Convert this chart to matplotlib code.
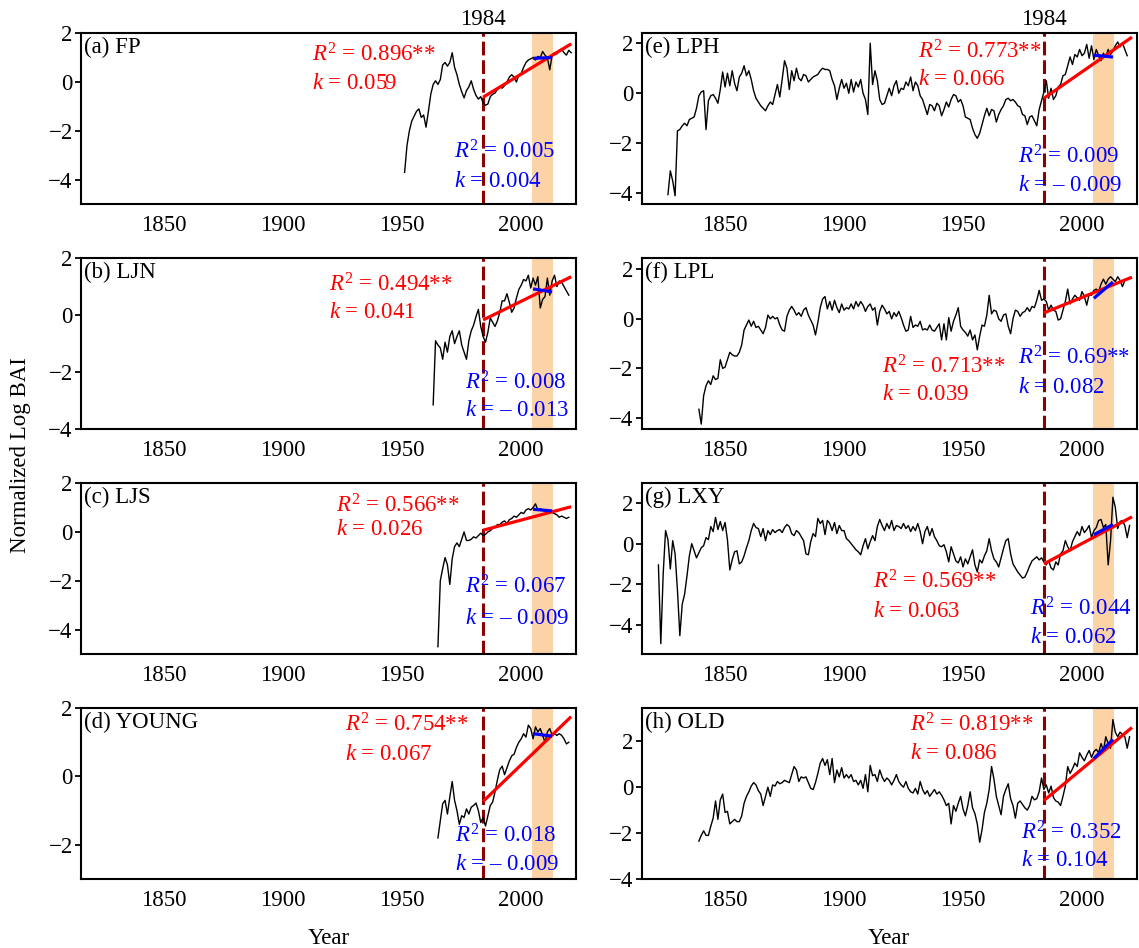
import numpy as np
import matplotlib
matplotlib.use("Agg")
import matplotlib.pyplot as plt

plt.rcParams['font.family'] = ['Liberation Serif', 'DejaVu Serif']
plt.rcParams['mathtext.fontset'] = 'custom'
plt.rcParams['mathtext.rm'] = 'Liberation Serif'
plt.rcParams['mathtext.it'] = 'Liberation Serif:italic'

# ---------------- data ----------------
panel_labels = ["(a) FP", "(b) LJN", "(c) LJS", "(d) YOUNG",
                "(e) LPH", "(f) LPL", "(g) LXY", "(h) OLD"]

fp_start = 1951
fp_bai = [-3.7, -2.6, -2.0, -1.6, -1.4, -1.2, -1.1, -1.45, -1.35, -1.85,
          -1.2, -0.5, -0.1, 0.05, -0.1, 0.1, 0.7, 0.8, 0.65, 0.8,
          1.2, 0.6, 0.3, -0.1, -0.4, -0.65, -0.35, -0.2, 0.05, -0.3,
          -0.55, -0.7, -0.6, -0.85, -0.95, -0.9, -0.6, -0.5, -0.45, -0.3,
          -0.2, -0.25, -0.15, 0.0, 0.2, 0.3, 0.2, 0.0, 0.3, 0.35,
          0.6, 0.8, 0.9, 0.95, 1.0, 0.9, 1.05, 1.0, 1.25, 1.1,
          1.0, 0.5, 1.1, 1.2, 1.15, 1.3, 1.35, 1.2, 1.1, 1.3, 1.2]

ljn_start = 1963
ljn_bai = [-3.15, -0.9, -1.05, -1.15, -1.55, -0.95, -1.3, -0.75, -0.55, -1.0,
           -0.75, -0.55, -1.05, -1.3, -1.55, -0.9, -0.55, -0.35, -0.05, 0.2,
           -0.4, -0.75, -0.95, -0.6, -0.1, -0.25, -0.4, -0.2, 0.1, 0.5,
           0.5, 0.75, 0.45, 0.1, 0.25, 0.6, 0.9, 1.05, 1.25, 1.2,
           1.4, 0.95, 1.3, 1.05, 1.35, 0.25, 0.55, 0.65, 1.3, 0.7,
           1.2, 1.4, 1.0, 1.2, 1.15, 1.0, 0.85, 0.7]

ljs_start = 1965
ljs_bai = [-4.7, -2.0, -1.5, -1.05, -1.35, -2.15, -1.1, -0.6, -0.45, -0.6,
           -0.3, 0.0, -0.35, -0.35, -0.3, -0.2, -0.25, -0.15, -0.05, -0.15,
           -0.1, 0.0, 0.05, 0.15, 0.2, 0.3, 0.3, 0.4, 0.45, 0.35,
           0.5, 0.55, 0.65, 0.6, 0.7, 0.8, 0.75, 0.9, 0.95, 0.9,
           1.0, 1.15, 0.9, 0.95, 0.9, 0.85, 0.9, 0.85, 0.8, 0.75,
           0.7, 0.6, 0.65, 0.6, 0.55, 0.6]

young_start = 1965
young_bai = [-1.8, -1.3, -0.8, -0.7, -1.1, -0.6, -0.15, -0.7, -1.0, -1.4,
             -1.15, -1.2, -0.95, -1.1, -0.9, -0.85, -0.78, -1.0, -1.35, -1.2,
             -1.45, -1.15, -0.85, -0.75, -0.45, -0.1, 0.2, 0.3, 0.05, 0.25,
             0.45, 0.6, 0.65, 0.85, 1.0, 1.1, 1.25, 1.15, 1.5, 1.4,
             1.1, 1.45, 1.3, 1.4, 1.2, 1.0, 1.3, 1.4, 1.2, 1.25,
             1.2, 1.25, 1.2, 1.1, 0.95, 1.0]

lph_start = 1826
lph_bai = [-4.05, -3.1, -3.5, -4.1, -1.5, -1.45, -1.3, -1.2, -1.3, -1.05,
           -1.0, -0.95, -0.6, -0.1, 0.05, 0.1, -1.45, -0.3, -0.1, -0.05,
           -0.2, -0.4, 0.15, 0.85, 0.25, 0.8, 0.3, 0.9, 0.4, 0.1,
           0.65, 0.8, 1.1, 0.7, 0.9, 0.55, 0.1, -0.2, -0.35, -0.5,
           -0.6, -0.7, -0.5, -0.35, -0.45, -0.05, 0.35, -0.15, 0.55, 1.3,
           1.0, 0.15, 0.9, 0.5, 1.0, 0.6, 0.5, 0.75, 0.7, 0.45,
           0.55, 0.65, 0.7, 0.75, 0.9, 1.0, 0.95, 0.95, 0.9, 0.55,
           0.3, -0.25, 0.2, 0.55, 0.2, 0.4, 0.0, 0.55, 0.05, 0.45,
           0.25, 0.55, 0.0, -0.25, -0.85, 2.0, 0.35, 0.9, 0.5, -0.25,
           -0.45, -0.4, -0.1, 0.2, -0.1, 0.3, 0.5, 0.0, 0.2, 0.15,
           0.45, 0.3, 0.65, 0.1, 0.45, 0.3, -0.1, -0.25, -0.55, -0.85,
           -0.45, -0.5, -0.7, -0.4, -0.5, -0.9, -0.65, -0.35, -0.55, -0.25,
           -0.05, -0.1, -0.35, -0.25, -0.5, -0.95, -1.0, -1.05, -1.4, -1.65,
           -1.8, -1.6, -1.25, -0.9, -0.6, -0.9, -0.65, -0.7, -1.15, -0.85,
           -0.65, -0.5, -0.25, -0.2, -0.3, -0.25, -0.35, -0.5, -0.55, -0.85,
           -0.9, -1.25, -0.95, -0.9, -1.1, -1.3, -0.65, -0.3, 0.05, 0.5,
           -0.2, 0.2, -0.25, -0.1, 0.25, 0.35, 0.7, 0.75, 1.1, 1.45,
           1.15, 1.55, 1.45, 1.75, 1.5, 1.6, 1.95, 1.4, 1.9, 1.35,
           1.75, 1.5, 1.3, 1.6, 1.45, 1.75, 1.55, 1.7, 1.9, 2.05,
           1.85, 2.0, 1.75, 1.5]

lpl_start = 1839
lpl_bai = [-3.65, -4.25, -3.1, -2.7, -2.5, -2.65, -2.3, -2.45, -2.4, -1.65,
           -2.0, -1.95, -1.65, -1.35, -1.45, -1.5, -1.5, -1.35, -1.05, -0.45,
           -0.25, -0.05, -0.3, -0.1, -0.35, -0.3, -0.45, -0.6, -0.35, 0.15,
           0.0, 0.1, 0.0, 0.05, -0.25, -0.45, -0.5, 0.1, 0.35, 0.5,
           0.35, 0.15, 0.25, 0.1, 0.35, 0.45, 0.15, -0.05, -0.25, -0.65,
           -0.15, 0.45, 0.8, 0.9, 0.4, 0.7, 0.35, 0.75, 0.45, 0.25,
           0.6, 0.35, 0.45, 0.4, 0.6, 0.4, 0.7, 0.5, 0.7, 0.55,
           0.3, 0.5, 0.6, 0.35, 0.45, -0.25, 0.3, 0.55, 0.4, 0.2,
           0.3, 0.0, 0.25, 0.1, 0.3, 0.05, -0.25, -0.5, -0.45, 0.1,
           -0.35, -0.25, -0.3, -0.1, -0.45, -0.4, -0.45, -0.25, -0.45, -0.5,
           -0.35, -0.2, -0.85, -0.2, -0.85, 0.05, -0.5, -0.1, 0.15, 0.45,
           -0.3, -0.45, -0.55, -0.7, -0.45, -0.85, -0.65, -1.25, -0.7, -0.25,
           -0.3, 0.15, 0.95, 0.2, 0.35, 0.3, 0.0, -0.1, 0.15, 0.2,
           -0.3, -0.6, 0.0, 0.35, 0.3, 0.1, 0.25, 0.3, 0.45, 0.3,
           0.5, 0.45, 0.75, 1.15, 0.75, 0.8, 0.7, 0.35, 0.55, 0.35,
           0.3, -0.05, 0.0, 0.35, 0.7, 1.2, 0.6, 0.8, 0.95, 0.85,
           0.75, 1.1, 0.9, 0.55, 1.0, 0.95, 1.15, 1.2, 1.1, 1.4,
           1.6, 1.4, 1.6, 1.7, 1.6, 1.5, 1.7, 1.55, 1.3, 1.55, 1.6]

lxy_start = 1822
lxy_bai = [-1.05, -4.95, -1.5, 0.65, 0.2, -1.25, 0.15, -0.5, -2.3, -4.55,
           -3.0, -2.5, -1.6, -0.6, 0.0, -0.35, -0.7, -0.45, -0.2, -0.1,
           0.3, 0.2, 0.85, 0.6, 1.3, 0.7, 1.1, 0.65, 1.05, 0.2,
           -1.3, -0.8, -0.4, -0.35, -1.0, -0.9, -0.6, -0.2, 0.15, 0.65,
           1.0, 0.8, 0.75, 0.35, 0.75, 0.15, 0.65, 0.45, 0.7, 0.55,
           0.65, 0.7, 0.55, 0.8, 0.95, 0.85, 0.5, 0.4, 0.65, 0.55,
           0.35, 0.15, -0.5, -0.55, 0.1, 0.5, 0.35, 1.25, 1.0, 1.15,
           0.45, 1.15, 1.0, 0.65, 1.05, 0.5, 0.9, 0.65, 0.65, 0.25,
           0.15, 0.0, -0.15, -0.3, -0.4, -0.55, -0.1, 0.25, -0.25, 0.1,
           0.4, 0.15, 0.85, 1.2, 0.9, 0.65, 1.0, 0.75, 1.15, 0.65,
           0.9, 0.85, 0.75, 1.0, 0.75, 0.9, 0.6, 0.85, 0.65, 1.0,
           0.6, 0.0, 0.6, 0.85, 0.4, 0.75, 0.35, 0.15, -0.1, -0.15,
           -0.05, -0.4, -0.9, -0.15, -0.5, -0.85, -0.95, -0.65, -1.15, -0.75,
           -1.0, -0.65, -0.3, -1.05, -1.4, -0.8, -0.95, -0.6, -0.35, 0.25,
           -0.35, -0.75, -0.9, -1.15, -0.7, -0.25, 0.15, 0.25, -0.5, -1.0,
           -1.2, -1.4, -1.55, -1.7, -1.65, -1.4, -1.1, -0.85, -0.75, -0.65,
           -0.8, -0.7, -0.9, -1.05, -0.85, -1.2, -1.3, -0.9, -1.05, -0.5,
           -0.35, 0.15, -0.15, -0.35, 0.1, 0.35, 0.6, 0.4, 0.85, 0.55,
           0.7, 0.9, 0.3, 0.65, 0.8, 1.15, 1.2, 0.8, 0.95, -1.05,
           0.15, 2.3, 1.8, 0.75, 1.1, 1.15, 0.9, 0.3, 0.9]

old_start = 1839
old_bai = [-2.35, -2.1, -1.9, -2.1, -2.1, -1.7, -1.35, -0.6, -1.4, -0.55,
           -0.3, -1.1, -1.05, -1.6, -1.5, -1.4, -1.5, -1.5, -1.25, -0.7,
           -0.4, -0.2, 0.05, 0.2, 0.1, -0.15, -0.3, -0.8, -0.4, 0.0,
           -0.4, 0.1, 0.05, 0.25, 0.15, 0.2, 0.3, 0.25, 0.2, 0.55,
           0.9, 0.75, 0.25, 0.45, 0.4, 0.45, 0.2, -0.05, -0.1, 0.2,
           0.6, 1.05, 1.25, 0.95, 1.2, 0.55, 1.25, 0.2, 0.75, 0.45,
           0.85, 0.4, 0.55, 0.4, 0.55, 0.25, 0.3, 0.1, 0.3, -0.05,
           0.55, -0.2, 0.95, 0.5, 0.55, 0.25, 0.75, 0.45, 0.25, 0.4,
           0.3, 0.1, 0.3, 0.55, 0.25, 0.1, 0.0, 0.25, -0.05, -0.2,
           -0.25, -0.05, -0.3, 0.25, -0.1, -0.3, -0.15, -0.4, -0.25, -0.1,
           -0.3, -0.2, -0.35, -0.55, -0.8, -0.7, -1.6, -0.8, -1.05, -0.7,
           -0.4, -0.95, -1.25, -0.8, -0.2, -0.9, -1.15, -1.6, -2.4, -1.85,
           -1.1, -0.7, -0.1, 0.9, 0.35, -0.4, -0.8, -1.2, -0.4, -0.1,
           0.15, -0.5, -0.8, -1.35, -0.7, -0.6, -0.75, -0.9, -1.0, -0.8,
           -0.4, -0.55, -0.5, -0.2, 0.4, -0.1, 0.1, -0.25, 0.05, -0.45,
           -0.6, -0.65, -0.8, -0.4, 0.05, 0.9, 0.6, 0.8, 1.05, 0.9,
           1.5, 1.3, 1.15, 1.4, 1.6, 1.3, 1.55, 1.65, 1.5, 1.9,
           1.6, 2.2, 1.9, 1.7, 2.95, 2.4, 2.2, 2.4, 2.3, 2.2, 1.7, 2.2]

series_starts = [fp_start, ljn_start, ljs_start, young_start,
                 lph_start, lpl_start, lxy_start, old_start]
series_values = [fp_bai, ljn_bai, ljs_bai, young_bai,
                 lph_bai, lpl_bai, lxy_bai, old_bai]

# trend after 1984 (red) : value at 1984 and slope k
red_start = [-0.62, -0.17, 0.07, -0.73, -0.2, 0.24, -1.0, -0.58]
red_k = [0.059, 0.041, 0.026, 0.067, 0.066, 0.039, 0.063, 0.086]
red_r2 = ["0.896**", "0.494**", "0.566**", "0.754**",
          "0.773**", "0.713**", "0.569**", "0.819**"]
red_k_txt = ["0.059", "0.041", "0.026", "0.067",
             "0.066", "0.039", "0.063", "0.086"]

# trend in shaded period (blue)
blue_start = [0.97, 0.92, 0.93, 1.25, 1.52, 0.83, 0.45, 1.25]
blue_k = [0.004, -0.013, -0.009, -0.009, -0.009, 0.082, 0.062, 0.104]
blue_r2 = ["0.005", "0.008", "0.067", "0.018",
           "0.009", "0.69**", "0.044", "0.352"]
blue_k_txt = ["0.004", "\u2013 0.013", "\u2013 0.009", "\u2013 0.009",
              "\u2013 0.009", "0.082", "0.062", "0.104"]

break_year = 1984
red_end_year = 2021
shade_years = [2004.5, 2013.5]
blue_years = [2005, 2013]

ylims = [(-5, 2), (-4, 2), (-5, 2), (-3, 2),
         (-4.43, 2.4), (-4.45, 2.45), (-5.46, 3.0), (-4, 3.45)]
yticks = [[-4, -2, 0, 2], [-4, -2, 0, 2], [-4, -2, 0, 2], [-2, 0, 2],
          [-4, -2, 0, 2], [-4, -2, 0, 2], [-4, -2, 0, 2], [-4, -2, 0, 2]]
xticks = [1850, 1900, 1950, 2000]

# text positions (axes fraction): x, y line1, y line2
red_pos = [(0.466, 0.873, 0.707), (0.502, 0.845, 0.680), (0.515, 0.865, 0.729),
           (0.533, 0.903, 0.727), (0.559, 0.893, 0.727), (0.485, 0.365, 0.205),
           (0.467, 0.422, 0.251), (0.541, 0.903, 0.734)]
blue_pos = [(0.754, 0.307, 0.131), (0.776, 0.272, 0.107), (0.776, 0.391, 0.207),
            (0.756, 0.250, 0.084), (0.760, 0.277, 0.111), (0.760, 0.414, 0.244),
            (0.784, 0.265, 0.098), (0.766, 0.272, 0.107)]

# ---------------- figure ----------------
FS = 16.5
fig = plt.figure(figsize=(11.39, 9.48), dpi=100)
gs = fig.add_gridspec(4, 2, left=0.0711, right=0.998, top=0.965, bottom=0.0728,
                      wspace=0.133, hspace=0.316)

RED = '#FF0000'
BLUE = '#0000FF'
DARKRED = '#8B0000'
SHADE = '#FBD3A6'

for i in range(8):
    col = i // 4
    row = i % 4
    ax = fig.add_subplot(gs[row, col])
    vals = np.array(series_values[i])
    yrs = np.arange(series_starts[i], series_starts[i] + len(vals))

    ax.axvspan(shade_years[0], shade_years[1], color=SHADE, lw=0, zorder=0)
    ax.axvline(break_year, color=DARKRED, lw=2.2, ls=(0, (4.5, 1.6)), zorder=1)
    ax.plot(yrs, vals, color='black', lw=1.0, zorder=2)

    rx = np.array([break_year, red_end_year])
    ax.plot(rx, red_start[i] + red_k[i] * (rx - break_year), color=RED, lw=2.3,
            zorder=3, solid_capstyle='butt')
    bx = np.array(blue_years)
    ax.plot(bx, blue_start[i] + blue_k[i] * (bx - bx[0]), color=BLUE, lw=2.3,
            zorder=4, solid_capstyle='butt')

    ax.set_xlim(1815, 2023)
    ax.set_ylim(*ylims[i])
    ax.set_xticks(xticks)
    ax.set_yticks(yticks[i])
    ax.tick_params(axis='x', length=0, pad=8, labelsize=FS)
    ax.tick_params(axis='y', length=4, width=1.3, pad=2, labelsize=FS, direction='out')
    for s in ax.spines.values():
        s.set_linewidth(1.5)

    ax.text(0.006, 0.915, panel_labels[i], transform=ax.transAxes, fontsize=FS,
            ha='left', va='center')

    x, y1, y2 = red_pos[i]
    ax.text(x, y1, r"$R^2$ = " + red_r2[i], transform=ax.transAxes, color=RED,
            fontsize=FS, ha='left', va='center', zorder=5)
    ax.text(x, y2, r"$k$ = " + red_k_txt[i], transform=ax.transAxes, color=RED,
            fontsize=FS, ha='left', va='center', zorder=5)
    x, y1, y2 = blue_pos[i]
    ax.text(x, y1, r"$R^2$ = " + blue_r2[i], transform=ax.transAxes, color=BLUE,
            fontsize=FS, ha='left', va='center', zorder=5)
    ax.text(x, y2, r"$k$ = " + blue_k_txt[i], transform=ax.transAxes, color=BLUE,
            fontsize=FS, ha='left', va='center', zorder=5)

    if row == 0:
        ax.annotate(str(break_year), xy=(break_year, 1.0),
                    xycoords=('data', 'axes fraction'), xytext=(0, 2),
                    textcoords='offset points', ha='center', va='bottom',
                    fontsize=FS)
    if row == 3:
        ax.set_xlabel("Year", fontsize=FS, labelpad=12)

fig.text(0.018, 0.52, "Normalized Log BAI", rotation=90, fontsize=FS,
         ha='center', va='center')

fig.savefig("out.png", dpi=100)
